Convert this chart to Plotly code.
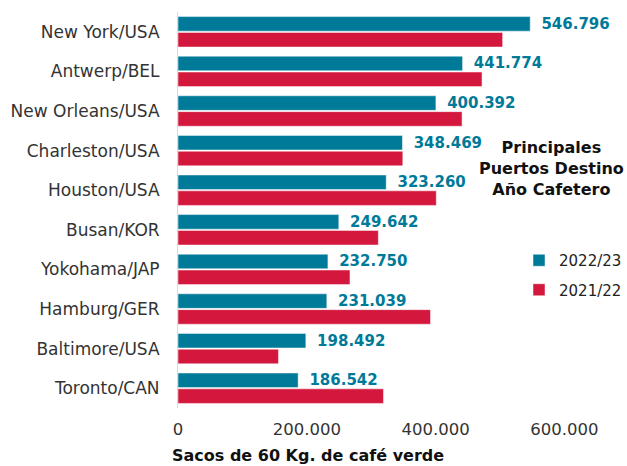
import plotly.graph_objects as go

ports = ["New York/USA", "Antwerp/BEL", "New Orleans/USA", "Charleston/USA", "Houston/USA",
         "Busan/KOR", "Yokohama/JAP", "Hamburg/GER", "Baltimore/USA", "Toronto/CAN"]
v_2022_23 = [546796, 441774, 400392, 348469, 323260, 249642, 232750, 231039, 198492, 186542]
v_2021_22 = [504000, 472000, 441000, 349000, 401000, 311000, 267000, 392000, 156000, 319000]
x_ticks = [0, 200000, 400000, 600000]

TEAL = "#007a99"
RED = "#d4183d"
FONT = "DejaVu Sans"

W, H = 627, 466
L, R, T, B = 178, 11, 12, 58
plot_w = W - L - R
plot_h = H - T - B


def px_x(x):
    return (x - L) / plot_w


def px_y(y):
    return (H - B - y) / plot_h


fig = go.Figure()
fig.add_trace(go.Bar(
    y=ports, x=v_2022_23, orientation="h", name="2022/23", legendgroup="a",
    marker=dict(color=TEAL, line=dict(color="rgba(255,255,255,0.6)", width=0.8)),
    texttemplate="\u00a0\u2009%{x:,.0f}", textposition="outside", cliponaxis=False,
    constraintext="none",
    textfont=dict(color=TEAL, size=15, family=FONT, weight="bold"),
))
fig.add_trace(go.Bar(
    y=ports, x=v_2021_22, orientation="h", name="2021/22", legendgroup="b",
    marker=dict(color=RED, line=dict(color="rgba(255,255,255,0.6)", width=0.8)),
))

fig.update_layout(
    width=W, height=H,
    margin=dict(l=L, r=R, t=T, b=B, autoexpand=False),
    paper_bgcolor="white", plot_bgcolor="white",
    separators=",.",
    barmode="group", bargap=0.2, bargroupgap=0.08,
    font=dict(family=FONT, color="#333333", size=14),
    showlegend=True,
    legend=dict(x=px_x(519), y=px_y(244), xanchor="left", yanchor="top",
                font=dict(size=15, color="#222222"), traceorder="grouped",
                itemwidth=30, tracegroupgap=7, bgcolor="rgba(0,0,0,0)"),
    xaxis=dict(range=[0, 680000], tickvals=x_ticks, tickformat=",.0f",
               showgrid=False, zeroline=False, showline=False, automargin=False,
               ticklabelstandoff=9,
               tickfont=dict(size=16.5, color="#333333"), ticks=""),
    yaxis=dict(categoryorder="array", categoryarray=ports, autorange="reversed",
               showline=True, linecolor="#d9d9d9", linewidth=1, showgrid=False,
               ticks="", ticklabelstandoff=14, automargin=False,
               tickfont=dict(size=17, color="#333333")),
    annotations=[
        dict(text="<b>Principales<br>Puertos Destino<br>Año Cafetero</b>",
             x=px_x(551), y=px_y(168), xref="paper", yref="paper", showarrow=False,
             xanchor="center", yanchor="middle",
             font=dict(size=16, color="#111111", family=FONT), align="center"),
        dict(text="<b>Sacos de 60 Kg. de café verde</b>",
             x=px_x(308), y=px_y(456), xref="paper", yref="paper", showarrow=False,
             xanchor="center", yanchor="middle",
             font=dict(size=16, color="#111111", family=FONT)),
    ],
)

fig.write_html(
    "out.html",
    config={"displayModeBar": False},
    post_script="document.body.style.margin='0';document.body.style.overflow='hidden';",
)
